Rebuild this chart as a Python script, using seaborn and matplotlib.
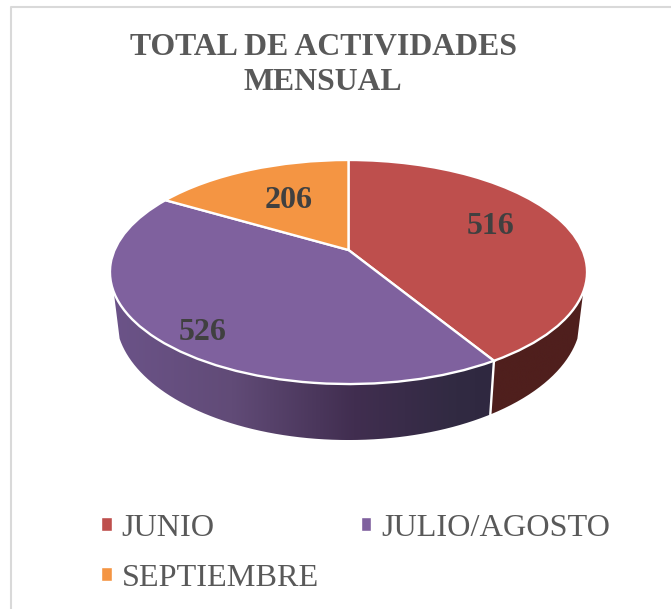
import matplotlib
matplotlib.use("Agg")
import matplotlib.pyplot as plt
from matplotlib.colors import to_rgb
from matplotlib.patches import Patch, PathPatch
from matplotlib.path import Path
from matplotlib.transforms import Transform
import numpy as np
import seaborn as sns

# Data
months = ['JUNIO', 'JULIO/AGOSTO', 'SEPTIEMBRE']
activities = [516, 526, 206]
colors = ['#BE4F4D', '#7F619E', '#F49543']
title = 'TOTAL DE ACTIVIDADES\nMENSUAL'

sns.set_theme(style="white")
plt.rcParams['font.family'] = ['Liberation Serif', 'DejaVu Serif']

W, H = 671, 609


# Tilted view of the unit pie, gives pixel positions
class TiltView(Transform):
    input_dims = 2
    output_dims = 2

    def transform_non_affine(self, xy):
        xy = np.asarray(xy, dtype=float)
        d = 1 + 0.1964 * xy[:, 1]
        return np.column_stack([348.5 + 233.9 * xy[:, 0] / d, (250 - 58.6 * xy[:, 1]) / d])


tilt = TiltView()


def rim(start, end, n=120):
    # points along the pie rim, angles clockwise from the top
    a = np.radians(np.linspace(start, end, n))
    return tilt.transform_non_affine(np.column_stack([np.sin(a), np.cos(a)]))


def lower_rim(top):
    # bottom edge of the wall, a bit narrower because it is further away
    low = top.copy()
    low[:, 0] = 348.5 + (top[:, 0] - 348.5) * 0.975
    low[:, 1] = top[:, 1] + 56 - (384 - top[:, 1]) * 0.1
    return low


fig = plt.figure(figsize=(W / 100, H / 100), dpi=100)
ax = fig.add_axes([0, 0, 1, 1])

wedges, _ = ax.pie(activities, colors=colors, startangle=90, counterclock=False,
                   wedgeprops={'edgecolor': 'white', 'linewidth': 1.7})
ax.set_aspect('auto')
ax.axis('off')
for w in wedges:
    w.set_transform(tilt + ax.transData)
    w.set_zorder(5)

# Side wall of the pie, only the part facing the viewer
cum = np.cumsum(activities) / np.sum(activities) * 360
walls = [(111.2, cum[0], ['#4F1F1D', '#4F1F1D'], [0, 1]),
         (cum[0], 248.8, ['#2F2840', '#312A42', '#412E50', '#614B77', '#6B5388'], [0, 0.1, 0.37, 0.69, 1])]
for start, end, stops, where in walls:
    top = rim(start, end)
    bottom = lower_rim(top)
    verts = np.vstack([top, bottom[::-1], top[:1]])
    clip = PathPatch(Path(verts), transform=ax.transData, facecolor='none', edgecolor='none')
    ax.add_patch(clip)
    t = np.linspace(0, 1, 128)
    shade = np.column_stack([np.interp(t, where, [to_rgb(s)[i] for s in stops]) for i in range(3)])
    img = ax.imshow(shade[np.newaxis, :, :],
                    extent=[verts[:, 0].max(), verts[:, 0].min(), verts[:, 1].max(), verts[:, 1].min()],
                    aspect='auto', zorder=2, interpolation='bilinear')
    img.set_clip_path(clip)
    # white seam between slices
    if start == cum[0]:
        ax.plot([top[0, 0], bottom[0, 0]], [top[0, 1], bottom[0, 1]], color='white', lw=1.7, zorder=3)
ax.set_xlim(0, W)
ax.set_ylim(H, 0)

# Labels on the slices
label_pos = [(491, 226), (203, 332), (289, 200)]
for value, (lx, ly) in zip(activities, label_pos):
    ax.text(lx, ly, str(value), ha='center', va='center', fontsize=23, fontweight='bold',
            color='#404040', zorder=6)

ax.text(323, 65, title, ha='center', va='center', fontsize=22.9, fontweight='bold',
        color='#595959', linespacing=1.3, zorder=6)

# Chart frame, open on the right and bottom
ax.plot([11, 11, W], [H, 7, 7], color='#D9D9D9', lw=1.5, zorder=1)

# Legend fills by column, so this order reads row by row like the original
order = [0, 2, 1]
handles = [Patch(facecolor=colors[i], label=months[i]) for i in order]
ax.legend(handles=handles, ncols=2, loc='lower left', bbox_to_anchor=(85 / W, 1 - 609 / H),
          frameon=False, fontsize=23.2, labelcolor='#595959', handlelength=0.33, handleheight=0.3,
          handletextpad=0.31, columnspacing=1.29, labelspacing=0.66, borderpad=0)

fig.savefig('out.png', dpi=100)
